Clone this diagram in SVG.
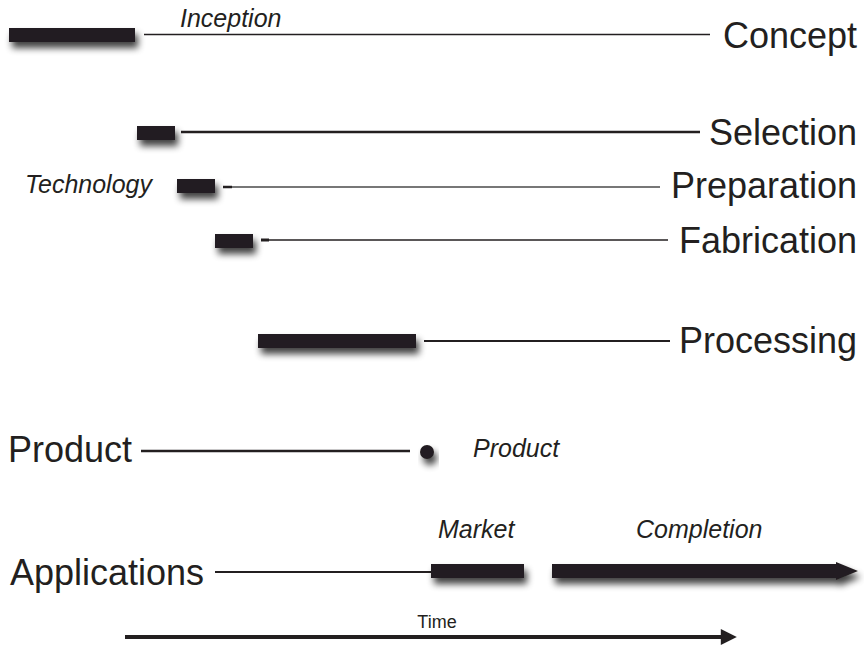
<svg xmlns="http://www.w3.org/2000/svg" width="864" height="649" viewBox="0 0 864 649">
<defs>
<filter id="sh" x="-30%" y="-100%" width="160%" height="350%">
<feGaussianBlur in="SourceAlpha" stdDeviation="3.5"/>
<feOffset dx="3" dy="6" result="b"/>
<feComponentTransfer><feFuncA type="linear" slope="0.75"/></feComponentTransfer>
<feMerge><feMergeNode/><feMergeNode in="SourceGraphic"/></feMerge>
</filter>
<marker id="ah" viewBox="0 0 10 10" refX="2" refY="5" markerWidth="5" markerHeight="4" orient="auto" markerUnits="strokeWidth">
<path d="M0,0 L10,5 L0,10 z" fill="#231f20"/>
</marker>
</defs>
<style>
.bar{fill:#231f20;filter:url(#sh)}
.big{font-family:"Liberation Sans",Arial,sans-serif;font-size:36px;fill:#231f20}
.it{font-family:"Liberation Sans",Arial,sans-serif;font-size:25px;font-style:italic;fill:#231f20}
.ln{stroke:#231f20;fill:none}
</style>
<rect width="864" height="649" fill="#fff"/>
<g id="connectors">
<line class="ln" x1="144" y1="34.5" x2="710" y2="34.5" stroke-width="1.5"/>
<line class="ln" x1="181" y1="132" x2="700" y2="132" stroke-width="2.5"/>
<line class="ln" x1="223" y1="187" x2="232" y2="187" stroke-width="2.5"/>
<line x1="232" y1="187" x2="660" y2="187" stroke="#777" stroke-width="2"/>
<line class="ln" x1="261" y1="240" x2="269" y2="240" stroke-width="3"/>
<line class="ln" x1="269" y1="240" x2="668" y2="240" stroke-width="1.3"/>
<line class="ln" x1="424" y1="341" x2="670" y2="341" stroke-width="2"/>
<line class="ln" x1="141" y1="451" x2="410" y2="451" stroke-width="2.5"/>
<line class="ln" x1="215" y1="572" x2="431" y2="572" stroke-width="2"/>
<line class="ln" x1="125" y1="637" x2="724" y2="637" stroke-width="4" marker-end="url(#ah)"/>
</g>
<g id="concept">
<rect class="bar" x="9" y="28" width="126" height="14"/>
<text class="it" x="180" y="27">Inception</text>
<text class="big" x="857" y="48" text-anchor="end">Concept</text>
</g>
<g id="selection">
<rect class="bar" x="137" y="126" width="38" height="14"/>
<text class="big" x="857" y="145" text-anchor="end">Selection</text>
</g>
<g id="preparation">
<rect class="bar" x="177" y="179" width="38" height="14"/>
<text class="it" x="25" y="193">Technology</text>
<text class="big" x="857" y="198" text-anchor="end">Preparation</text>
</g>
<g id="fabrication">
<rect class="bar" x="215" y="234" width="38" height="14"/>
<text class="big" x="857" y="253" text-anchor="end">Fabrication</text>
</g>
<g id="processing">
<rect class="bar" x="258" y="334" width="158" height="14"/>
<text class="big" x="857" y="353" text-anchor="end">Processing</text>
</g>
<g id="product">
<text class="big" x="8" y="462">Product</text>
<circle cx="427" cy="452" r="7" fill="#231f20" filter="url(#sh)"/>
<text class="it" x="473" y="457">Product</text>
</g>
<g id="applications">
<text class="big" x="10" y="585">Applications</text>
<rect class="bar" x="431" y="564" width="93" height="14"/>
<text class="it" x="438" y="538">Market</text>
<path class="bar" d="M552,564 L836,564 L836,562 L858,571 L836,580 L836,578 L552,578 z"/>
<text class="it" x="636" y="538">Completion</text>
</g>
<g id="time">
<text x="437" y="628" text-anchor="middle" font-family="Liberation Sans, Arial, sans-serif" font-size="18" fill="#231f20">Time</text>
</g>
</svg>
